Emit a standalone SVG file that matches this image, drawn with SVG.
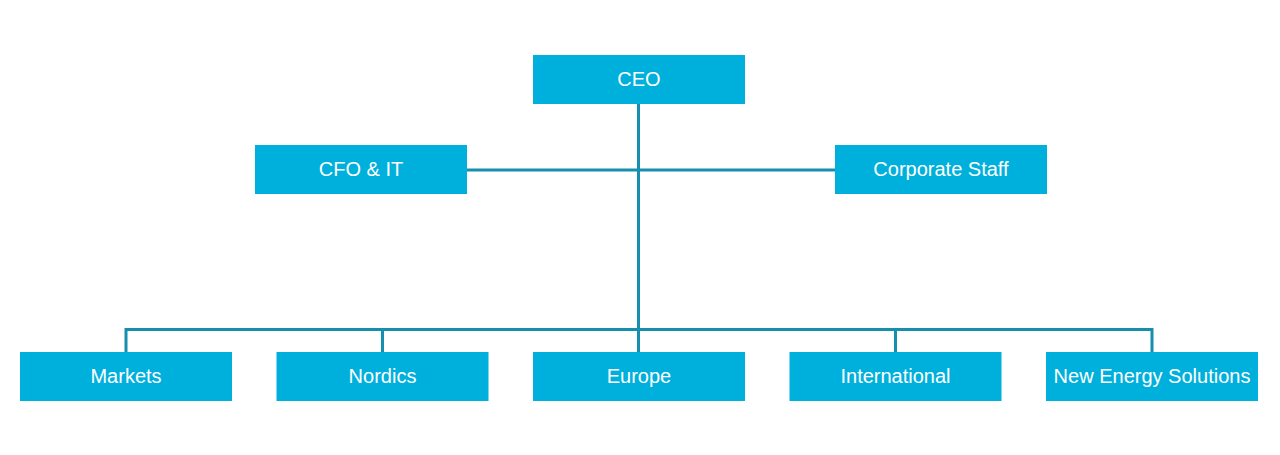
<svg xmlns="http://www.w3.org/2000/svg" width="1280" height="455" viewBox="0 0 1280 455">
<style>
.box{fill:#00b0dc;}
.lbl{fill:#ffffff;font-family:"Liberation Sans",Arial,sans-serif;font-size:20px;text-anchor:middle;}
.conn{stroke:#168eae;stroke-width:3;fill:none;}
</style>
<rect width="1280" height="455" fill="#ffffff"/>
<g id="connectors">
<line class="conn" x1="638.5" y1="104" x2="638.5" y2="352"/>
<line class="conn" x1="467" y1="170" x2="835" y2="170"/>
<polyline class="conn" points="126,352 126,329.5 1152,329.5 1152,352"/>
<line class="conn" x1="382.5" y1="329.5" x2="382.5" y2="352"/>
<line class="conn" x1="895.5" y1="329.5" x2="895.5" y2="352"/>
</g>
<g id="ceo"><rect class="box" x="533" y="55" width="212" height="49"/><text class="lbl" x="639" y="86">CEO</text></g>
<g id="cfo"><rect class="box" x="255" y="145" width="212" height="49"/><text class="lbl" x="361" y="176">CFO &amp; IT</text></g>
<g id="corporate-staff"><rect class="box" x="835" y="145" width="212" height="49"/><text class="lbl" x="941" y="176">Corporate Staff</text></g>
<g id="markets"><rect class="box" x="20" y="352" width="212" height="49"/><text class="lbl" x="126" y="383">Markets</text></g>
<g id="nordics"><rect class="box" x="276.5" y="352" width="212" height="49"/><text class="lbl" x="382.5" y="383">Nordics</text></g>
<g id="europe"><rect class="box" x="533" y="352" width="212" height="49"/><text class="lbl" x="639" y="383">Europe</text></g>
<g id="international"><rect class="box" x="789.5" y="352" width="212" height="49"/><text class="lbl" x="895.5" y="383">International</text></g>
<g id="new-energy-solutions"><rect class="box" x="1046" y="352" width="212" height="49"/><text class="lbl" x="1152" y="383">New Energy Solutions</text></g>
</svg>
